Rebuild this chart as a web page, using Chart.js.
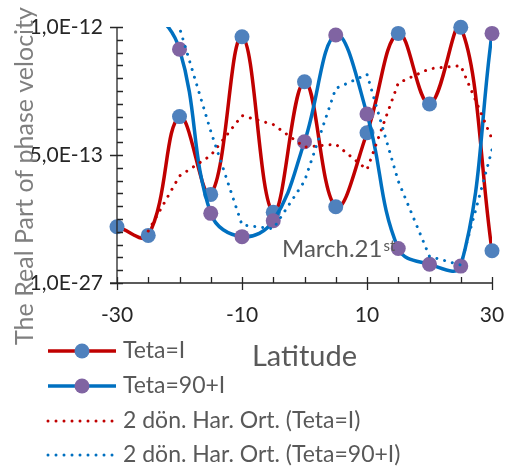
<!DOCTYPE html>
<html><head><meta charset="utf-8">
<script src="https://cdn.jsdelivr.net/npm/chart.js@4"></script>
<style>html,body{margin:0;padding:0;background:#fff}#wrap{width:507px;height:468px;position:relative}</style>
</head><body><div id="wrap"><canvas id="c" width="507" height="468"></canvas></div>
<script>
const latitudes = [-30, -25, -20, -15, -10, -5, 0, 5, 10, 15, 20, 25, 30];
const tetaI = [2.20e-13, 1.86e-13, 6.50e-13, 3.46e-13, 9.62e-13, 2.76e-13, 7.86e-13, 2.98e-13, 5.87e-13, 9.75e-13, 6.99e-13, 9.99e-13, 1.26e-13];
const teta90I = [1.15e-12, 1.08e-12, 9.13e-13, 2.72e-13, 1.81e-13, 2.43e-13, 5.52e-13, 9.69e-13, 6.60e-13, 1.35e-13, 7.3e-14, 6.6e-14, 9.75e-13];
const maTetaI = [null, 2.03e-13, 4.18e-13, 4.98e-13, 6.54e-13, 6.19e-13, 5.31e-13, 5.42e-13, 4.43e-13, 7.81e-13, 8.37e-13, 8.49e-13, 5.63e-13];
const maTeta90I = [null, 1.12e-12, 9.97e-13, 5.93e-13, 2.27e-13, 2.12e-13, 3.98e-13, 7.60e-13, 8.15e-13, 3.98e-13, 1.04e-13, 7.0e-14, 5.20e-13];
const seriesNames = ['Teta=I', 'Teta=90+I', '2 dön. Har. Ort. (Teta=I)', '2 dön. Har. Ort. (Teta=90+I)'];
const xTickValues = [-30, -10, 10, 30];
const xTickLabels = ['-30', '-10', '10', '30'];
const xMinorStep = 5;
const yTickValues = [0, 5e-13, 1e-12];
const yTickLabels = ['1,0E-27', '5,0E-13', '1,0E-12'];
const yMinorStep = 5e-14;
const xTitle = 'Latitude';
const yTitle = 'The Real Part of phase velocity';
const noteText = 'March.21';
const noteSup = 'st';

const X_MIN = -30, X_MAX = 30, Y_MIN = 0, Y_MAX = 1e-12;
const RED = '#C00000', BLUE = '#0070C0', MARK1 = '#4F81BD', MARK2 = '#8064A2';
const FONT = 'Lato';

function pts(arr) { return latitudes.map((x, i) => ({x: x, y: arr[i]})); }
const markerRadius = c => (c.raw && c.raw.y !== null && c.raw.y <= Y_MAX) ? 7.5 : 0;

const decor = {
  id: 'decor',
  afterDraw(chart) {
    const ctx = chart.ctx, xs = chart.scales.x, ys = chart.scales.y;
    const L = xs.left, R = xs.right, T = ys.top, B = ys.bottom;
    ctx.save();
    ctx.strokeStyle = '#262626';
    ctx.lineWidth = 1.3;
    ctx.beginPath();
    ctx.moveTo(L, T); ctx.lineTo(L, B);
    ctx.moveTo(L - 7, B); ctx.lineTo(R, B);
    for (let k = 0; k <= Math.round((Y_MAX - Y_MIN) / yMinorStep); k++) {
      const v = Y_MIN + k * yMinorStep;
      const py = Math.round(ys.getPixelForValue(v)) + 0.5;
      const major = yTickValues.some(t => Math.abs(t - v) < yMinorStep / 10);
      ctx.moveTo(major ? L - 7 : L, py); ctx.lineTo(L + 6, py);
    }
    for (let v = X_MIN; v <= X_MAX; v += xMinorStep) {
      const px = Math.round(xs.getPixelForValue(v)) + 0.5;
      const major = xTickValues.includes(v);
      ctx.moveTo(px, B - 6); ctx.lineTo(px, major ? B + 7 : B);
    }
    ctx.stroke();

    ctx.fillStyle = '#7F7F7F';
    ctx.font = '25px ' + FONT;
    ctx.translate(33, 176);
    ctx.rotate(-Math.PI / 2);
    ctx.textAlign = 'center';
    ctx.textBaseline = 'alphabetic';
    ctx.fillText(yTitle, 0, 0);
    ctx.setTransform(1, 0, 0, 1, 0, 0);

    ctx.fillStyle = '#595959';
    ctx.font = '29px ' + FONT;
    ctx.textAlign = 'center';
    ctx.textBaseline = 'middle';
    ctx.fillText(xTitle, (L + R) / 2, 357);

    ctx.font = '24px ' + FONT;
    ctx.textAlign = 'left';
    ctx.textBaseline = 'alphabetic';
    ctx.fillText(noteText, 282, 257);
    const w = ctx.measureText(noteText).width;
    ctx.font = '15px ' + FONT;
    ctx.fillText(noteSup, 282 + w + 1, 251);

    const rows = [351, 386, 421, 455];
    const ds = chart.data.datasets;
    const entries = [
      {line: ds[0], mark: ds[1]},
      {line: ds[2], mark: ds[3]},
      {line: ds[4]},
      {line: ds[5]}
    ];
    entries.forEach((e, i) => {
      const y = rows[i];
      ctx.save();
      ctx.strokeStyle = e.line.borderColor;
      ctx.lineWidth = e.line.borderWidth;
      ctx.lineCap = e.line.borderCapStyle || 'butt';
      if (e.line.borderDash) ctx.setLineDash(e.line.borderDash);
      ctx.beginPath(); ctx.moveTo(48, y); ctx.lineTo(116, y); ctx.stroke();
      ctx.restore();
      if (e.mark) {
        ctx.fillStyle = e.mark.pointBackgroundColor;
        ctx.beginPath(); ctx.arc(82, y, 7.5, 0, Math.PI * 2); ctx.fill();
      }
      ctx.fillStyle = '#595959';
      ctx.font = '23px ' + FONT;
      ctx.textAlign = 'left';
      ctx.textBaseline = 'middle';
      ctx.fillText(seriesNames[i], 123, y);
    });
    ctx.restore();
  }
};

new Chart(document.getElementById('c'), {
  type: 'line',
  data: {
    datasets: [
      {label: seriesNames[0], data: pts(tetaI), borderColor: RED, borderWidth: 3.5, pointRadius: 0, tension: 0.4, order: 6, fill: false},
      {label: seriesNames[0] + ' markers', data: pts(tetaI), showLine: false, pointRadius: markerRadius, pointBackgroundColor: MARK1, pointBorderWidth: 0, pointBorderColor: MARK1, clip: false, order: 5},
      {label: seriesNames[1], data: pts(teta90I), borderColor: BLUE, borderWidth: 3.5, pointRadius: 0, tension: 0.4, order: 4, fill: false},
      {label: seriesNames[1] + ' markers', data: pts(teta90I), showLine: false, pointRadius: markerRadius, pointBackgroundColor: MARK2, pointBorderWidth: 0, pointBorderColor: MARK2, clip: false, order: 3},
      {label: seriesNames[2], data: pts(maTetaI), borderColor: RED, borderWidth: 3, borderDash: [0.001, 8], borderCapStyle: 'round', pointRadius: 0, tension: 0, order: 2, fill: false},
      {label: seriesNames[3], data: pts(maTeta90I), borderColor: BLUE, borderWidth: 3, borderDash: [0.001, 8], borderCapStyle: 'round', pointRadius: 0, tension: 0, order: 1, fill: false}
    ]
  },
  options: {
    responsive: false,
    animation: false,
    layout: {padding: {left: 0, right: 15, top: 27, bottom: 125}},
    plugins: {legend: {display: false}, tooltip: {enabled: false}},
    elements: {line: {capBezierPoints: false}},
    scales: {
      x: {
        type: 'linear', min: X_MIN, max: X_MAX,
        grid: {display: false, drawTicks: false}, border: {display: false},
        afterBuildTicks: s => { s.ticks = xTickValues.map(v => ({value: v})); },
        afterFit: s => { s.height = 60; s.paddingLeft = 0; s.paddingRight = 0; },
        ticks: {autoSkip: false, maxRotation: 0, minRotation: 0, padding: 20, color: '#262626', font: {family: FONT, size: 21},
          callback: (v) => xTickLabels[xTickValues.indexOf(v)]}
      },
      y: {
        type: 'linear', min: Y_MIN, max: Y_MAX,
        grid: {display: false, drawTicks: false}, border: {display: false},
        afterBuildTicks: s => { s.ticks = yTickValues.map(v => ({value: v})); },
        afterFit: s => { s.width = 117; s.paddingTop = 0; s.paddingBottom = 0; },
        ticks: {autoSkip: false, padding: 14, color: '#262626', font: {family: FONT, size: 21},
          callback: (v) => yTickLabels[yTickValues.indexOf(v)]}
      }
    }
  },
  plugins: [decor]
});
</script></body></html>
